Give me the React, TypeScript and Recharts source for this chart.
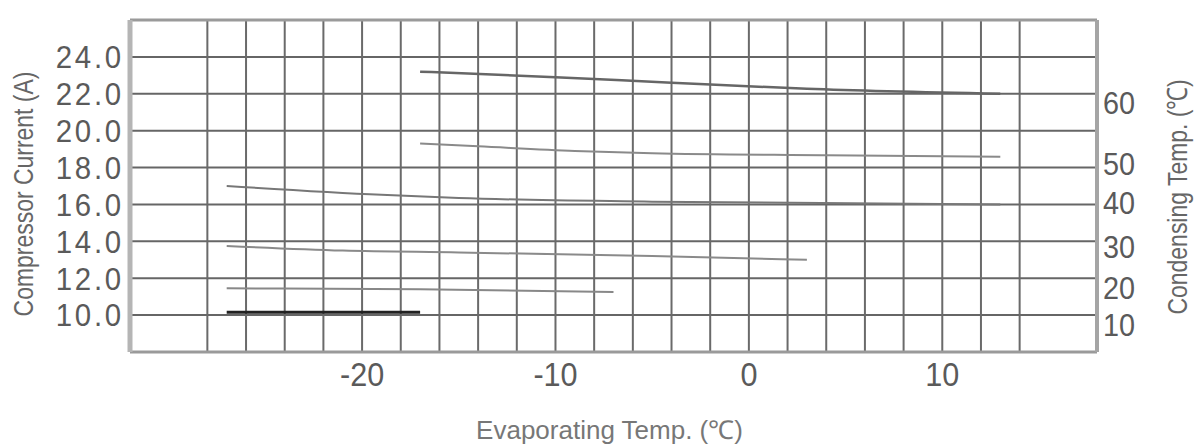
import { LineChart, Line, XAxis, YAxis, ReferenceLine, Label } from 'recharts';

// axis ticks
const evapTicks = [-20, -10, 0, 10];
const currentTicks = [10, 12, 14, 16, 18, 20, 22, 24];
const gridEvap = [-28, -26, -24, -22, -20, -18, -16, -14, -12, -10, -8, -6, -4, -2, 0, 2, 4, 6, 8, 10, 12, 14];
const gridCurrent = [10, 12, 14, 16, 18, 20, 22, 24];
const evapEdges = [-32, 18];
const currentEdges = [8, 26];

// condensing temp labels on the right, and where they sit on the current scale
const condTemps = [10, 20, 30, 40, 50, 60];
const condLabelAt = [9.5, 11.5, 13.7, 16.1, 18.2, 21.5];

// curves: evaporating temp (°C) -> compressor current (A)
const c60Evap = [-17, -10, -4, 3, 13];
const c60Amp = [23.2, 22.9, 22.6, 22.27, 22.0];
const c50Evap = [-17, -14, -9, -5, 4, 13];
const c50Amp = [19.3, 19.15, 18.9, 18.78, 18.67, 18.58];
const c40Evap = [-27, -19, -15, -5, 13];
const c40Amp = [17.0, 16.52, 16.35, 16.15, 16.0];
const c30Evap = [-27, -21, -15, -5, 3];
const c30Amp = [13.75, 13.5, 13.4, 13.2, 13.0];
const c20Evap = [-27, -17, -7];
const c20Amp = [11.45, 11.4, 11.25];
const c10Evap = [-27, -17];
const c10Amp = [10.15, 10.15];

const toPoints = (xs: number[], ys: number[]) => xs.map((x, i) => ({ x, y: ys[i] }));

const curves = [
    { name: '60', data: toPoints(c60Evap, c60Amp), color: '#666', width: 2.5 },
    { name: '50', data: toPoints(c50Evap, c50Amp), color: '#8a8a8a', width: 2 },
    { name: '40', data: toPoints(c40Evap, c40Amp), color: '#777', width: 2 },
    { name: '30', data: toPoints(c30Evap, c30Amp), color: '#8a8a8a', width: 2 },
    { name: '20', data: toPoints(c20Evap, c20Amp), color: '#888', width: 2 },
    { name: '10', data: toPoints(c10Evap, c10Amp), color: '#222', width: 3 },
];

const FONT = "'Liberation Sans', Arimo, Arial, sans-serif";
const TEXT = '#5a5a5a';

// Liberation Sans squeezed horizontally, to look like the narrow plotter font
const Narrow = ({ x, y, anchor, size, dy, angle = 0, squeeze = 0.82, spacing = 0, fill = TEXT, children }: any) => (
    <g transform={`translate(${x},${y}) rotate(${angle}) scale(${squeeze},1)`}>
        <text x={0} y={0} dy={dy} textAnchor={anchor} fontFamily={FONT} fontSize={size} fill={fill} letterSpacing={spacing}>
            {children}
        </text>
    </g>
);

const LeftTick = ({ x, y, payload }: any) => (
    <Narrow x={x + 2} y={y} dy="0.355em" anchor="end" size={32} squeeze={0.92} spacing={3}>
        {Number(payload.value).toFixed(1)}
    </Narrow>
);

const RightTick = ({ x, y, index }: any) => (
    <Narrow x={x} y={y} dy="0.355em" anchor="start" size={32} squeeze={0.9}>
        {condTemps[index]}
    </Narrow>
);

const BottomTick = ({ x, y, payload }: any) => (
    <Narrow x={x} y={y} dy="0.71em" anchor="middle" size={34} squeeze={0.9}>
        {payload.value}
    </Narrow>
);

const LeftTitle = ({ viewBox }: any) => (
    <Narrow x={viewBox.x + 23} y={viewBox.y + viewBox.height / 2 + 8} dy="0.35em" anchor="middle"
        angle={-90} size={28} fill="#666">
        Compressor Current (A)
    </Narrow>
);

const RightTitle = ({ viewBox }: any) => (
    <Narrow x={viewBox.x + 80} y={viewBox.y + viewBox.height / 2 + 11} dy="0.35em" anchor="middle"
        angle={-90} size={28} fill="#666">
        Condensing Temp. (℃)
    </Narrow>
);

const BottomTitle = ({ viewBox }: any) => (
    <Narrow x={viewBox.x + viewBox.width / 2 - 4} y={viewBox.y + 78} dy="0.35em" anchor="middle"
        size={26} squeeze={1} fill="#777">
        Evaporating Temp. (℃)
    </Narrow>
);

export default function App() {
    return (
        <div style={{ position: 'absolute', left: 0, top: 0, background: '#fff' }}>
            <LineChart width={1200} height={447} margin={{ top: 20, right: 0, bottom: 0, left: 0 }}>
                <XAxis
                    type="number"
                    dataKey="x"
                    domain={[-32, 18]}
                    allowDataOverflow
                    ticks={evapTicks}
                    interval={0}
                    axisLine={false}
                    tickLine={false}
                    tickMargin={4}
                    tick={<BottomTick />}
                    height={95}
                >
                    <Label content={BottomTitle} />
                </XAxis>
                <YAxis
                    yAxisId="left"
                    type="number"
                    domain={[8, 26]}
                    allowDataOverflow
                    ticks={currentTicks}
                    interval={0}
                    axisLine={false}
                    tickLine={false}
                    tick={<LeftTick />}
                    width={130}
                >
                    <Label content={LeftTitle} />
                </YAxis>
                <YAxis
                    yAxisId="right"
                    orientation="right"
                    type="number"
                    domain={[8, 26]}
                    allowDataOverflow
                    ticks={condLabelAt}
                    interval={0}
                    axisLine={false}
                    tickLine={false}
                    tickMargin={0}
                    tick={<RightTick />}
                    width={103}
                >
                    <Label content={RightTitle} />
                </YAxis>

                {gridCurrent.map((v) => (
                    <ReferenceLine key={`h${v}`} yAxisId="left" y={v} stroke="#666" strokeWidth={2} />
                ))}
                {gridEvap.map((v) => (
                    <ReferenceLine key={`v${v}`} yAxisId="left" x={v} stroke="#6a6a6a" strokeWidth={2} />
                ))}
                {currentEdges.map((v) => (
                    <ReferenceLine key={`hb${v}`} yAxisId="left" y={v} stroke="#9a9a9a" strokeWidth={3} />
                ))}
                <ReferenceLine yAxisId="left" x={evapEdges[0]} stroke="#b5b5b5" strokeWidth={5} />
                <ReferenceLine yAxisId="left" x={evapEdges[1]} stroke="#a5a5a5" strokeWidth={4} />

                {curves.map((c) => (
                    <Line
                        key={c.name}
                        yAxisId="left"
                        data={c.data}
                        dataKey="y"
                        type="monotone"
                        stroke={c.color}
                        strokeWidth={c.width}
                        dot={false}
                        activeDot={false}
                        isAnimationActive={false}
                    />
                ))}
            </LineChart>
        </div>
    );
}
